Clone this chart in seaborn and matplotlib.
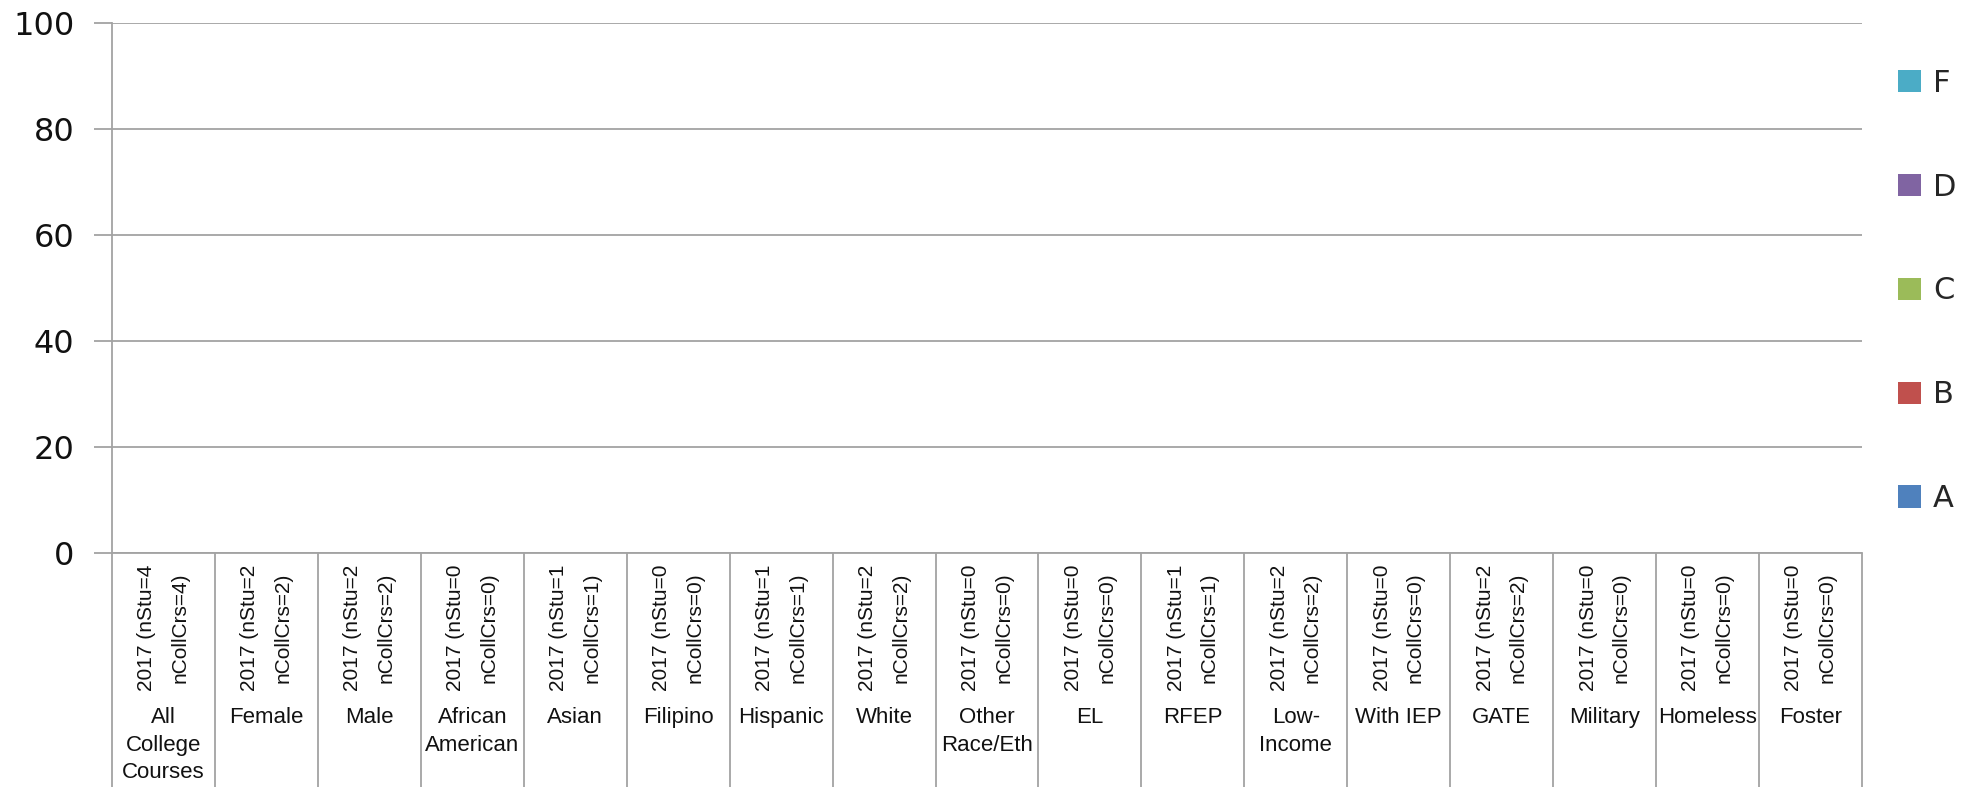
import matplotlib
matplotlib.use("Agg")
import matplotlib.pyplot as plt
import matplotlib.transforms as mtransforms
from matplotlib.patches import Patch
import numpy as np
import pandas as pd
import seaborn as sns

# ---------------- data ----------------
groups = ["All\nCollege\nCourses", "Female", "Male", "African\nAmerican", "Asian",
          "Filipino", "Hispanic", "White", "Other\nRace/Eth", "EL", "RFEP",
          "Low-\nIncome", "With IEP", "GATE", "Military", "Homeless", "Foster"]
years = ["2017"] * 17
n_stu = [4, 2, 2, 0, 1, 0, 1, 2, 0, 0, 1, 2, 0, 2, 0, 0, 0]
n_coll_crs = [4, 2, 2, 0, 1, 0, 1, 2, 0, 0, 1, 2, 0, 2, 0, 0, 0]
grades = ["A", "B", "C", "D", "F"]
pct_A = [0] * 17
pct_B = [0] * 17
pct_C = [0] * 17
pct_D = [0] * 17
pct_F = [0] * 17
grade_colors = {"A": "#4F81BD", "B": "#C0504D", "C": "#9BBB59", "D": "#8064A2", "F": "#4BACC6"}
y_ticks = [0, 20, 40, 60, 80, 100]

# ---------------- figure ----------------
sns.set_theme(style="white")
plt.rcParams["font.family"] = ["DejaVu Sans"]

W, H = 1969, 787
fig = plt.figure(figsize=(W / 100, H / 100), dpi=100)
left, right, top, bottom = 112, 1862, 23.5, 553
ax = fig.add_axes([left / W, 1 - bottom / H, (right - left) / W, (bottom - top) / H])

keys = [f"g{i}" for i in range(len(groups))]
df = pd.DataFrame({"key": keys, "A": pct_A, "B": pct_B, "C": pct_C, "D": pct_D, "F": pct_F})
cum = df[grades].cumsum(axis=1)
for g in reversed(grades):
    sns.barplot(x=df["key"], y=cum[g], color=grade_colors[g], order=keys,
                width=0.4, ax=ax, saturation=1, linewidth=0)

ax.set_ylim(0, 100)
ax.set_xlim(-0.5, len(groups) - 0.5)
ax.set_yticks(y_ticks)
ax.set_yticklabels([str(v) for v in y_ticks], fontsize=23, color="#111111")
ax.set_xticks([])
ax.set_xlabel("")
ax.set_ylabel("")

gcol = "#A3A3A3"
ax.yaxis.grid(True, color=gcol, linewidth=1.3)
ax.xaxis.grid(False)
ax.set_axisbelow(True)
for s in ["top", "right", "bottom"]:
    ax.spines[s].set_visible(False)
ax.spines["left"].set_color(gcol)
ax.spines["left"].set_linewidth(1.3)
ax.tick_params(axis="y", length=13, width=1.3, color=gcol, pad=14, left=True)

# category axis (two-level) below the plot
trans = mtransforms.blended_transform_factory(ax.transData, ax.transAxes)
ax_h = bottom - top
y_low = -(H - bottom) / ax_h - 0.02
for i in range(len(groups) + 1):
    ax.plot([i - 0.5, i - 0.5], [0, y_low], color=gcol, lw=1.3, transform=trans, clip_on=False)
ax.plot([-0.5, len(groups) - 0.5], [0, 0], color=gcol, lw=1.3, transform=trans, clip_on=False)

for i, g in enumerate(groups):
    lbl = f"{years[i]} (nStu={n_stu[i]}\nnCollCrs={n_coll_crs[i]})"
    ax.text(i, -(627.5 - bottom) / ax_h, lbl, rotation=90, ha="center", va="center",
            multialignment="center", fontsize=15, family="Liberation Sans",
            color="#111111", linespacing=1.95, transform=trans)
    ax.text(i, -(707 - bottom) / ax_h, g, ha="center", va="top", multialignment="center",
            fontsize=16, family="Liberation Sans", color="#111111", linespacing=1.42,
            transform=trans)

# legend
handles = [Patch(facecolor=grade_colors[g], edgecolor="none", label=g) for g in reversed(grades)]
fig.legend(handles=handles, loc="center left", bbox_to_anchor=(1898 / W, 1 - 291 / H),
           frameon=False, fontsize=22, handlelength=0.75, handleheight=0.75,
           handletextpad=0.4, labelspacing=2.45, borderpad=0, borderaxespad=0)

fig.savefig("out.png", dpi=100)
